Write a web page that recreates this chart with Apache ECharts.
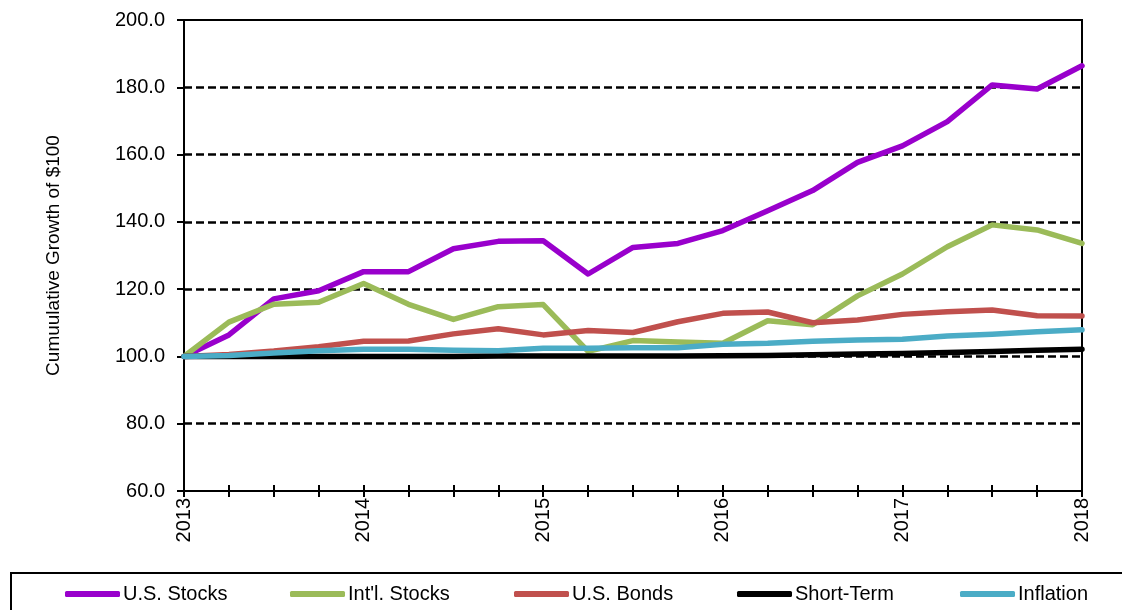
<!DOCTYPE html>
<html>
<head>
<meta charset="utf-8">
<script src="https://cdn.jsdelivr.net/npm/echarts@6/dist/echarts.min.js"></script>
<style>html,body{margin:0;padding:0;background:#fff}#c{width:1122px;height:610px}</style>
</head>
<body>
<div id="c"></div>
<script>
var quarters = ['2013 Q1','2013 Q2','2013 Q3','2013 Q4','2014 Q1','2014 Q2','2014 Q3','2014 Q4','2015 Q1','2015 Q2','2015 Q3','2015 Q4','2016 Q1','2016 Q2','2016 Q3','2016 Q4','2017 Q1','2017 Q2','2017 Q3','2017 Q4','2018 Q1'];
var usStocks   = [100, 106.4, 117.1, 119.5, 125.2, 125.2, 132.0, 134.2, 134.4, 124.5, 132.4, 133.6, 137.4, 143.3, 149.3, 157.7, 162.6, 169.8, 180.7, 179.5, 186.4];
var intlStocks = [100, 110.2, 115.5, 116.1, 121.7, 115.5, 111.0, 114.8, 115.4, 101.5, 104.7, 104.3, 103.9, 110.6, 109.4, 118.0, 124.5, 132.6, 139.1, 137.6, 133.6];
var usBonds    = [100, 100.6, 101.6, 102.9, 104.5, 104.6, 106.7, 108.2, 106.4, 107.7, 107.1, 110.3, 112.8, 113.2, 110.0, 110.8, 112.5, 113.3, 113.8, 112.1, 112.0];
var shortTerm  = [100, 100.0, 100.0, 100.0, 100.0, 100.0, 100.0, 100.1, 100.1, 100.1, 100.1, 100.1, 100.2, 100.3, 100.5, 100.7, 100.9, 101.2, 101.5, 101.8, 102.1];
var inflation  = [100, 100.3, 101.0, 101.7, 102.1, 102.1, 101.8, 101.7, 102.4, 102.4, 102.6, 102.6, 103.6, 103.9, 104.5, 104.9, 105.1, 106.1, 106.6, 107.3, 107.9];
var seriesNames = ['U.S. Stocks', "Int'l. Stocks", 'U.S. Bonds', 'Short-Term', 'Inflation'];
var yTicks = [60, 80, 100, 120, 140, 160, 180, 200];

var colors = ['#9900CC', '#9BBB59', '#C0504D', '#000000', '#4BACC6'];
var allData = [usStocks, intlStocks, usBonds, shortTerm, inflation];
var FONT = '"Liberation Sans", Arial, sans-serif';

var chart = echarts.init(document.getElementById('c'), null, {renderer: 'canvas'});
var legendLefts = [65, 290, 514, 737, 960];
var legends = seriesNames.map(function (n, i) {
  return {
    data: [n], left: legendLefts[i], top: 584, padding: 0,
    itemWidth: 55, itemHeight: 6, itemGap: 0,
    icon: 'roundRect',
    textStyle: {fontFamily: FONT, fontSize: 20, color: '#000', padding: [0, 0, 0, -2]},
    selectedMode: false
  };
});
chart.setOption({
  animation: false,
  backgroundColor: '#fff',
  color: colors,
  textStyle: {fontFamily: FONT},
  grid: {left: 184, right: 40, top: 20, bottom: 119, show: true, borderColor: '#000', borderWidth: 2, backgroundColor: 'transparent'},
  legend: legends,
  graphic: [{
    type: 'rect', left: 10, top: 572, z: -1,
    shape: {width: 1130, height: 50},
    style: {fill: '#fff', stroke: '#000', lineWidth: 2}
  }],
  xAxis: [{
    type: 'category', data: quarters, boundaryGap: false,
    axisLine: {lineStyle: {color: '#000', width: 2}},
    axisTick: {show: true, interval: 0, length: 6, lineStyle: {color: '#000', width: 2}},
    axisLabel: {interval: 3, rotate: 90, color: '#000', fontSize: 20, fontFamily: FONT, margin: 7,
      formatter: function (v) { return v.slice(0, 4); }},
    splitLine: {show: false}
  }, {
    type: 'category', data: quarters, boundaryGap: false, position: 'bottom',
    axisLine: {show: false},
    axisTick: {show: true, inside: true, interval: 0, length: 6, lineStyle: {color: '#000', width: 2}},
    axisLabel: {show: false}, splitLine: {show: false}
  }],
  yAxis: {
    type: 'value', min: 60, max: 200, interval: 20,
    name: 'Cumuulative Growth of $100', nameLocation: 'middle', nameGap: 121, nameRotate: 90,
    nameTextStyle: {color: '#000', fontSize: 19, fontFamily: FONT},
    axisLine: {show: true, lineStyle: {color: '#000', width: 2}},
    axisTick: {show: true, length: 7, lineStyle: {color: '#000', width: 2}},
    axisLabel: {color: '#000', fontSize: 20, fontFamily: FONT, margin: 19,
      formatter: function (v) { return yTicks.indexOf(v) >= 0 ? v.toFixed(1) : ''; }},
    splitLine: {show: true, showMinLine: false, showMaxLine: false, lineStyle: {color: '#000', width: 2.5, type: [8, 4]}}
  },
  series: allData.map(function (d, i) {
    return {
      name: seriesNames[i], type: 'line', data: d, symbol: 'none',
      lineStyle: {width: 5.5, color: colors[i], cap: 'round', join: 'round'},
      itemStyle: {color: colors[i]}
    };
  })
});
</script>
</body>
</html>
